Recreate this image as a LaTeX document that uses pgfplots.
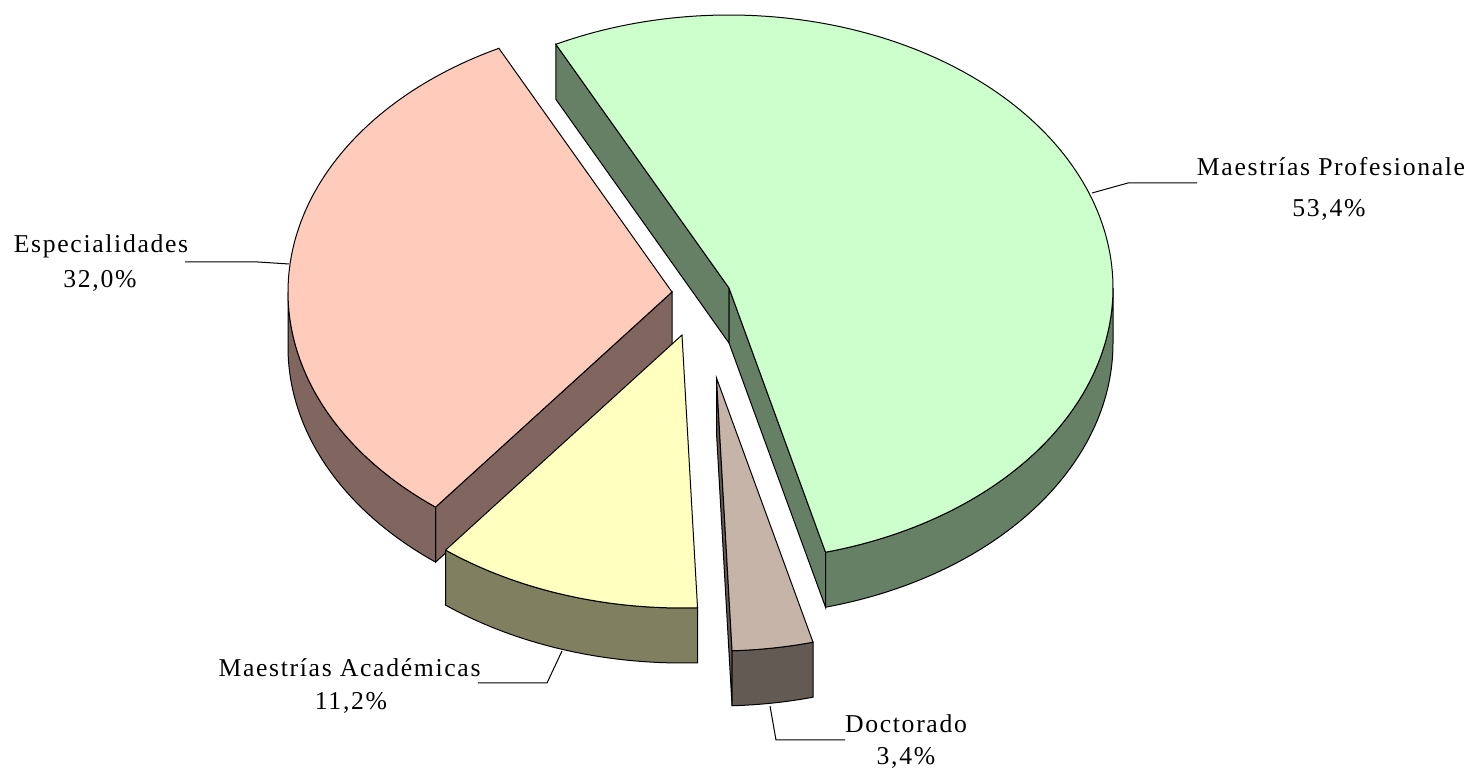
\documentclass[border=0pt]{standalone}
\usepackage{pgfplots}
\pgfplotsset{compat=1.18}
\usepackage{pgfplotstable}
\usepackage{fontspec}
\setmainfont{Liberation Serif}[LetterSpace=6.5]

\definecolor{mpTop}{RGB}{204,255,204}
\definecolor{mpSide}{RGB}{102,128,102}
\definecolor{esTop}{RGB}{255,204,188}
\definecolor{esSide}{RGB}{128,102,94}
\definecolor{maTop}{RGB}{255,255,192}
\definecolor{maSide}{RGB}{128,128,96}
\definecolor{doTop}{RGB}{198,180,168}
\definecolor{doSide}{RGB}{99,90,84}

% share (%) and the centre of each (exploded) slice, in picture units
\pgfplotstableread{
key value cx cy
MP 53.4 729 483
Do 3.4 716.5 393
MA 11.2 682 436
Es 32.0 672 479
}\piedata

\newcommand\getval[3]{\pgfplotstablegetelem{#1}{#2}\of\piedata\expandafter\xdef\csname #3\endcsname{\pgfplotsretval}}
% helper: point on rim at angle #4 of ellipse centred (#2,#3), shifted by #5
\newcommand\rimpt[5]{%
  \pgfmathsetmacro\tmpx{#2+384*cos(#4)}%
  \pgfmathsetmacro\tmpy{#3+273*sin(#4)+#5}%
  \expandafter\xdef\csname #1x\endcsname{\tmpx}%
  \expandafter\xdef\csname #1y\endcsname{\tmpy}}
% helper: radial face coordinates
\newcommand\facepts[4]{% name cx cy ang
  \pgfmathsetmacro\tmpx{#2+384*cos(#4)}%
  \pgfmathsetmacro\tmpy{#3+273*sin(#4)}%
  \pgfmathsetmacro\tmpyb{\tmpy-55}%
  \pgfmathsetmacro\tmpcb{#3-55}%
  \expandafter\xdef\csname #1\endcsname{(#2,#3) (\tmpx,\tmpy) (\tmpx,\tmpyb) (#2,\tmpcb)}}
\newcommand\radialface[2]{%
  \edef\tmpplot{\noexpand\addplot[fill=#2,draw=black] coordinates {#1} -- cycle;}\tmpplot}

\begin{document}
\getval{0}{value}{vMP}\getval{1}{value}{vDo}\getval{2}{value}{vMA}\getval{3}{value}{vEs}%
\getval{0}{cx}{xMP}\getval{1}{cx}{xDo}\getval{2}{cx}{xMA}\getval{3}{cx}{xEs}%
\getval{0}{cy}{yMP}\getval{1}{cy}{yDo}\getval{2}{cy}{yMA}\getval{3}{cy}{yEs}%
\pgfmathsetmacro\aMPe{116.8}%
\pgfmathsetmacro\aMPs{\aMPe-3.6*\vMP}%
\pgfmathsetmacro\aDoe{\aMPs}%
\pgfmathsetmacro\aDos{\aDoe-3.6*\vDo}%
\pgfmathsetmacro\aMAe{\aDos}%
\pgfmathsetmacro\aMAs{\aMAe-3.6*\vMA}%
\pgfmathsetmacro\aEse{\aMAs}%
\pgfmathsetmacro\aEss{\aEse-3.6*\vEs}%
\facepts{MPendface}{\xMP}{\yMP}{\aMPe}%
\facepts{MPstartface}{\xMP}{\yMP}{\aMPs}%
\facepts{Esendface}{\xEs}{\yEs}{\aEse}%
\facepts{Dostartface}{\xDo}{\yDo}{\aDos}%
\rimpt{MPB}{\xMP}{\yMP}{0}{-55}%
\rimpt{EsB}{\xEs}{\yEs}{\aEse}{-55}%
\rimpt{MAB}{\xMA}{\yMA}{\aMAe}{-55}%
\rimpt{DoB}{\xDo}{\yDo}{\aDoe}{-55}%
\begin{tikzpicture}
\begin{axis}[
  x=0.5pt, y=0.5pt,
  xmin=0, xmax=1474, ymin=0, ymax=771,
  hide axis, clip=false,
  every axis plot/.append style={line width=0.5pt},
]
\path (axis cs:0,0) rectangle (axis cs:1474,771);
% ---- Especialidades
\radialface{\Esendface}{esSide}
\addplot[fill=esSide,draw=black,domain=-180:\aEse,samples=60,variable=\t]
  ({\xEs+384*cos(\t)},{\yEs+273*sin(\t)})
  -- (axis cs:\EsBx,\EsBy) arc[start angle=\aEse, end angle=-180, x radius=192pt, y radius=136.5pt] -- cycle;
\addplot[fill=esTop,draw=black,domain=\aEss:\aEse,samples=120,variable=\t]
  ({\xEs+384*cos(\t)},{\yEs+273*sin(\t)}) -- (axis cs:\xEs,\yEs) -- cycle;
% ---- Maestrias Profesionales
\radialface{\MPendface}{mpSide}
\radialface{\MPstartface}{mpSide}
\addplot[fill=mpSide,draw=black,domain=\aMPs:0,samples=60,variable=\t]
  ({\xMP+384*cos(\t)},{\yMP+273*sin(\t)})
  -- (axis cs:\MPBx,\MPBy) arc[start angle=0, end angle=\aMPs, x radius=192pt, y radius=136.5pt] -- cycle;
\addplot[fill=mpTop,draw=black,domain=\aMPs:\aMPe,samples=150,variable=\t]
  ({\xMP+384*cos(\t)},{\yMP+273*sin(\t)}) -- (axis cs:\xMP,\yMP) -- cycle;
% ---- Maestrias Academicas
\addplot[fill=maSide,draw=black,domain=\aMAs:\aMAe,samples=50,variable=\t]
  ({\xMA+384*cos(\t)},{\yMA+273*sin(\t)})
  -- (axis cs:\MABx,\MABy) arc[start angle=\aMAe, end angle=\aMAs, x radius=192pt, y radius=136.5pt] -- cycle;
\addplot[fill=maTop,draw=black,domain=\aMAs:\aMAe,samples=50,variable=\t]
  ({\xMA+384*cos(\t)},{\yMA+273*sin(\t)}) -- (axis cs:\xMA,\yMA) -- cycle;
% ---- Doctorado
\radialface{\Dostartface}{doSide}
\addplot[fill=doSide,draw=black,domain=\aDos:\aDoe,samples=30,variable=\t]
  ({\xDo+384*cos(\t)},{\yDo+273*sin(\t)})
  -- (axis cs:\DoBx,\DoBy) arc[start angle=\aDoe, end angle=\aDos, x radius=192pt, y radius=136.5pt] -- cycle;
\addplot[fill=doTop,draw=black,domain=\aDos:\aDoe,samples=30,variable=\t]
  ({\xDo+384*cos(\t)},{\yDo+273*sin(\t)}) -- (axis cs:\xDo,\yDo) -- cycle;
% ---- leader lines
\draw[line width=0.5pt] (axis cs:1092,578) -- (axis cs:1128,588) -- (axis cs:1197,588);
\draw[line width=0.5pt] (axis cs:289,507) -- (axis cs:258,509) -- (axis cs:185,509);
\draw[line width=0.5pt] (axis cs:562,120) -- (axis cs:547,88) -- (axis cs:478,88);
\draw[line width=0.5pt] (axis cs:770,65) -- (axis cs:776,31) -- (axis cs:845,31);
% ---- labels
\begin{scope}[every node/.style={inner sep=0pt, anchor=base, font=\fontsize{12.85}{15}\selectfont}]
\node at (axis cs:1331,595) {Maestrías Profesionale};
\node at (axis cs:1329,554) {53,4\%};
\node at (axis cs:101,518) {Especialidades};
\node at (axis cs:100,483) {32,0\%};
\node at (axis cs:349.5,94) {Maestrías Académicas};
\node at (axis cs:351,61) {11,2\%};
\node at (axis cs:906,38) {Doctorado};
\node at (axis cs:906,6) {3,4\%};
\end{scope}
\end{axis}
\end{tikzpicture}
\end{document}
